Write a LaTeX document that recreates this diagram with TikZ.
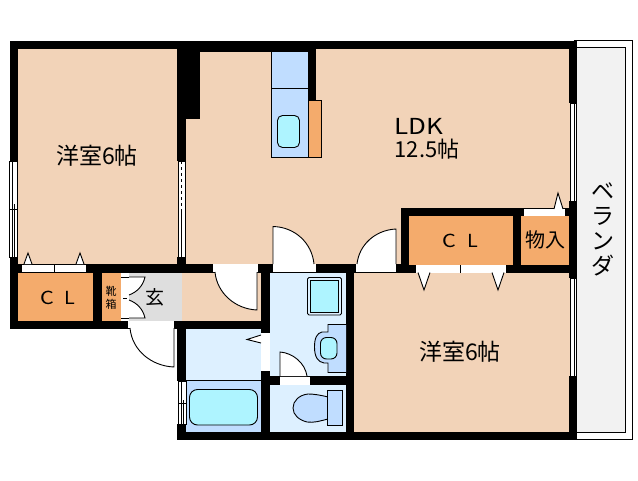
\documentclass[tikz,border=0pt]{standalone}
\usepackage{fontspec}
\setmainfont{Liberation Sans}
\newfontfamily\jp{Noto Sans CJK JP}
\definecolor{peach}{HTML}{F2D3B8}
\definecolor{closet}{HTML}{F4AB6C}
\definecolor{wet}{HTML}{DDF0FF}
\definecolor{wetdeep}{HTML}{C0DDFF}
\definecolor{aqua}{HTML}{AEF4FF}
\definecolor{hallgrey}{HTML}{DEDEDE}
\definecolor{balcony}{HTML}{F2F2F2}
\tikzset{
 wall/.style={fill=black,draw=none},
 fixture/.style={draw=black,line width=0.9pt},
 thin line/.style={draw=black,line width=0.9pt},
 opening/.style={fill=white,draw=none},
 leaf/.style={fill=white,draw=black,line width=0.9pt},
 label/.style={font=\jp,inner sep=0pt,text=black},
}
\begin{document}
\begin{tikzpicture}[x=1pt,y=-1pt]
\useasboundingbox (0,0) rectangle (638,480);
\fill[white] (0,0) rectangle (638,480);
% balcony
\draw[thin line] (573.5,40.5) -- (632.5,40.5) -- (632.5,439) -- (577,439);
\fill[balcony] (577,47.5) rectangle (625.5,432);
\draw[thin line] (577,47.5) -- (625.5,47.5) -- (625.5,432) -- (577,432);
% floors
\fill[peach] (17,49) rectangle (178,265);
\fill[peach] (185,49) rectangle (570,265);
\fill[peach] (353,272) rectangle (570,433);
\fill[peach] (182,272) rectangle (261,321);
\fill[hallgrey] (129,272) rectangle (182,321);
\fill[closet] (17,272) rectangle (93,321);
\fill[closet] (102,272) rectangle (121,321);
\fill[closet] (409,216) rectangle (513,265);
\fill[closet] (521,216) rectangle (570,265);
\fill[wet] (269,272) rectangle (347,377);
\fill[wet] (269,384) rectangle (347,433);
\fill[wet] (185,329) rectangle (262,380);
\fill[wetdeep] (185,380) rectangle (262,433);
% walls
\fill[wall] (10,41) rectangle (577,49);
\fill[wall] (186,49) rectangle (316,52);
\fill[wall] (308,49) rectangle (316,100);
\fill[wall] (10,41) rectangle (18,161);
\fill[wall] (10,257) rectangle (18,329);
\fill[wall] (177,49) rectangle (186,161);
\fill[wall] (186,49) rectangle (200,119);
\fill[wall] (177,257) rectangle (186,272);
\fill[wall] (10,264) rectangle (401,272.5);
\fill[wall] (93,272) rectangle (102,321);
\fill[wall] (10,321) rectangle (186,329);
\fill[wall] (177,321) rectangle (186,381);
\fill[wall] (177,424) rectangle (186,440);
\fill[wall] (177,432) rectangle (577,440);
\fill[wall] (182,321) rectangle (270,329);
\fill[wall] (261,264) rectangle (270,333);
\fill[wall] (261,371) rectangle (270,440);
\fill[wall] (261,376) rectangle (354,385);
\fill[wall] (346,264) rectangle (354,440);
\fill[wall] (401,208) rectangle (409,272.5);
\fill[wall] (401,208) rectangle (577,216);
\fill[wall] (513,208) rectangle (521,272.5);
\fill[wall] (396,264.5) rectangle (577,272.5);
\fill[wall] (569,41) rectangle (577,103);
\fill[wall] (569,201) rectangle (577,278);
\fill[wall] (569,376) rectangle (577,440);
% windows
\foreach \xa/\xb/\ya/\yb in {9.5/17.5/161/257, 178/185/161/257, 570/576/103/201, 570/576/278/376, 178/186/381/424}{
  \fill[white] (\xa,\ya) rectangle (\xb,\yb);
  \draw[black,line width=0.8pt] (\xa,\ya) rectangle (\xb,\yb);
}
\draw[black,line width=0.8pt] (12.5,161) -- (12.5,257) (14.5,204) -- (14.5,257) (9.5,209) -- (17.5,209);
\draw[black,line width=0.8pt,dash pattern=on 3pt off 3pt] (181.5,161) -- (181.5,210);
\draw[black,line width=0.8pt] (181,210) -- (181,257);
\draw[black,line width=0.8pt] (574,103) -- (574,201) (574,278) -- (574,376);
\draw[black,line width=0.8pt] (181,381) -- (181,424) (183,400) -- (183,424) (178,403) -- (186,403);
% openings
\foreach \xa/\ya/\xb/\yb in {22/264/86/272, 213/264/258/272, 273/264/316/272, 356/264/396/272, 416/265/506/272.5, 524/209/565/216, 128/321/174/328, 280/376.5/310/384.5, 261/333/270/371, 121/277/129/318}{
  \fill[opening] (\xa,\ya) rectangle (\xb,\yb);
}
\draw[thin line] (54,264) -- (54,272) (22,264) -- (86,264);
\draw[thin line] (460,265) -- (460,272.5);
\draw[thin line] (121,277) -- (129,277) (121,318) -- (129,318);
\draw[thin line] (123,298) -- (127,298);
% door leaves
\draw[leaf] (273,264) -- (273,226.5) .. controls (295,227) and (312,243) .. (314,264);
\draw[leaf] (396,264) -- (396,229) .. controls (375,230) and (359,245) .. (357,264);
\draw[leaf] (257,272) -- (257,310) .. controls (235,309) and (217,293) .. (215,272);
\draw[leaf] (174,328) -- (174,367) .. controls (151,366) and (132,350) .. (130,328);
\draw[leaf] (280,376) -- (280,352) .. controls (293,353) and (305,363) .. (307,376);
% folding door
\draw[thin line,fill=white] (129,277) -- (145,277) .. controls (143,286) and (137,292) .. (129,295);
\draw[thin line,fill=white] (129,318) -- (145,318) .. controls (143,309) and (137,303) .. (129,300);
% triangles
\draw[leaf] (24,264) -- (28,253) -- (32,264);
\draw[leaf] (76,264) -- (80,253) -- (84,264);
\draw[leaf] (554,209) -- (558,193) -- (563,209);
\draw[leaf] (418,272.5) -- (424,290) -- (430,272.5);
\draw[leaf] (492,272.5) -- (498,290) -- (504,272.5);
\draw[leaf] (261,335) -- (247,339.5) -- (261,343);
% kitchen
\fill[wetdeep] (271,52) rectangle (308,157);
\draw[fixture] (271,52) -- (271,157) -- (308,157) -- (308,100);
\draw[fixture] (271,88.5) -- (308,88.5);
\draw[fixture,fill=closet] (308,100) rectangle (321.5,157);
\draw[fixture,fill=aqua,rounded corners=5pt] (277.5,115.5) rectangle (299.5,147.5);
% bath
\draw[thin line] (186,380) -- (261,380);
\draw[fixture,fill=aqua,rounded corners=8pt] (189.5,389.5) rectangle (257.5,425);
% wash machine pan
\draw[fixture,fill=wet,rounded corners=1.5pt] (307.5,277.5) rectangle (341.5,315);
\draw[fixture,fill=aqua] (310.5,280.5) rectangle (338.5,312);
% washbasin
\draw[fixture,fill=wetdeep] (346,324.5) -- (328,324.5) -- (328,332) -- (322,332) .. controls (317,333) and (314.5,338) .. (314.5,347) .. controls (314.5,357) and (318,362) .. (324,363) -- (328,363) -- (328,372.5) -- (346,372.5);
\draw[fixture,fill=aqua,rounded corners=6pt] (320.5,337.5) rectangle (337,359);
% toilet
\draw[fixture,fill=wetdeep] (328,397) .. controls (320,395) and (314,394) .. (308,394) .. controls (299,395) and (293,401) .. (293,408) .. controls (293,415) and (299,420) .. (307,422) .. controls (314,423) and (320,421) .. (328,419) -- cycle;
\draw[fixture,fill=wetdeep] (327.5,390.5) rectangle (342.5,425);
% labels
\node[label,font=\jp\fontsize{23}{23}\selectfont] (r1) at (97,156) {洋室6帖};
\node[label,font=\jp\fontsize{22}{22}\selectfont] (ldk) at (419,126) {\scalebox{1.18}[1]{LDK}};
\node[label,font=\jp\fontsize{22}{22}\selectfont] (ldka) at (427,149) {12.5帖};
\node[label,font=\jp\fontsize{23}{23}\selectfont] (r2) at (460,352) {洋室6帖};
\node[label,font=\jp\fontsize{18}{18}\selectfont] (c1) at (449.5,241) {\scalebox{1.2}[1]{C}};
\node[label,font=\jp\fontsize{18}{18}\selectfont] (l1) at (472.5,241) {\scalebox{1.1}[1]{L}};
\node[label,font=\jp\fontsize{18}{18}\selectfont] (c2) at (47,298) {\scalebox{1.2}[1]{C}};
\node[label,font=\jp\fontsize{18}{18}\selectfont] (l2) at (69.5,298) {\scalebox{1.1}[1]{L}};
\node[label,font=\jp\fontsize{20}{20}\selectfont] (mono) at (545,240) {物入};
\node[label,font=\jp\fontsize{19}{19}\selectfont] (gen) at (155,297) {玄};
\node[label,font=\jp\fontsize{11}{11}\selectfont] (k1) at (111,291) {靴};
\node[label,font=\jp\fontsize{11}{11}\selectfont] (k2) at (111,304) {箱};
\node[label,font=\jp\fontsize{23}{23}\selectfont] (b1) at (603,191) {ベ};
\node[label,font=\jp\fontsize{23}{23}\selectfont] (b2) at (603,216) {ラ};
\node[label,font=\jp\fontsize{23}{23}\selectfont] (b3) at (603,241) {ン};
\node[label,font=\jp\fontsize{23}{23}\selectfont] (b4) at (603,266) {ダ};
\end{tikzpicture}
\end{document}
